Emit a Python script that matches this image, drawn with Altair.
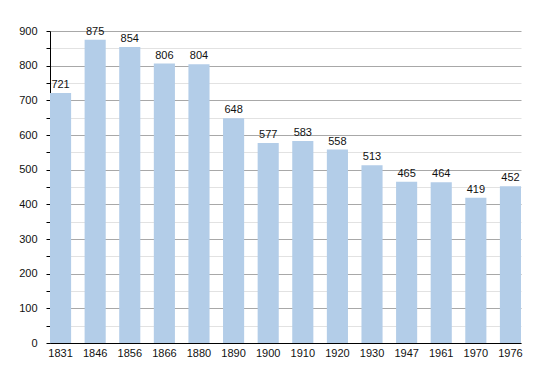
import altair as alt
import pandas as pd

years = ["1831", "1846", "1856", "1866", "1880", "1890", "1900", "1910", "1920", "1930", "1947", "1961", "1970", "1976"]
population = [721, 875, 854, 806, 804, 648, 577, 583, 558, 513, 465, 464, 419, 452]
y_ticks = list(range(0, 901, 50))

df = pd.DataFrame({"year": years, "pop": population})

FONT = "Liberation Sans"

x = alt.X("year:N", sort=years, title=None,
          scale=alt.Scale(paddingInner=0.39, paddingOuter=0),
          axis=alt.Axis(labelAngle=0, ticks=False, labelPadding=4, labelFontSize=11,
                        labelFont=FONT, labelColor="#111", domainColor="#000", grid=False))
y = alt.Y("pop:Q", title=None,
          scale=alt.Scale(domain=[0, 900], nice=False),
          axis=alt.Axis(values=y_ticks, tickSize=4, labelPadding=9, labelFontSize=11,
                        labelFont=FONT, labelColor="#111", domainColor="#000", tickColor="#000",
                        labelOverlap=False,
                        labelExpr="datum.value % 100 === 0 ? datum.label : ''",
                        gridColor=alt.condition("datum.value % 100 === 0", alt.value("#a8a8a8"), alt.value("#e2e2e2"))))

base = alt.Chart(df).encode(x=x, y=y)
bars = base.mark_bar(color="#b3cde8")
labels = base.mark_text(baseline="bottom", dy=-3, fontSize=11, font=FONT, color="#111").encode(text="pop:Q")

chart = alt.layer(bars, labels).properties(
    width=471, height=312,
    autosize=alt.AutoSizeParams(type="none"),
    padding={"left": 42, "top": 23, "right": 21, "bottom": 22},
).configure_view(stroke=None)

chart.save("out.html", embed_options={"renderer": "svg", "actions": False})
